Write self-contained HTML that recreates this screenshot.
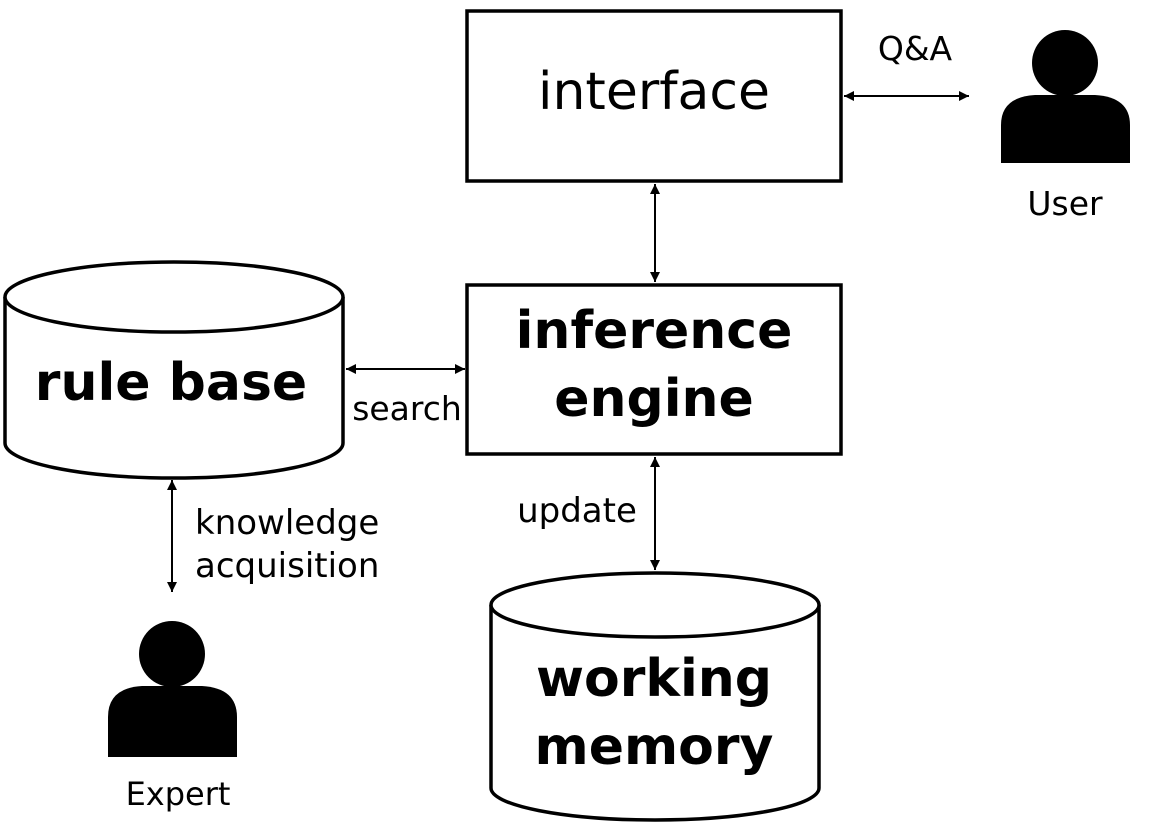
<!DOCTYPE html>
<html><head><meta charset="utf-8"><style>
html,body{margin:0;padding:0;background:#fff;}
svg{display:block;}
text{font-family:"DejaVu Sans","Liberation Sans",sans-serif;fill:#000;}
</style></head><body>
<svg width="1162" height="836" viewBox="0 0 1162 836" xmlns="http://www.w3.org/2000/svg">
<defs>
<marker id="a" viewBox="0 0 10 10" refX="10" refY="5" markerWidth="5" markerHeight="5" orient="auto-start-reverse"><path d="M0,0 L10,5 L0,10 z" fill="#000"/></marker>
</defs>
<g stroke="#000" stroke-width="3.5" fill="#fff">
<rect x="467" y="11" width="374" height="170"/>
<rect x="467" y="285" width="374" height="169"/>
<path d="M5,297 L5,443 A169,35 0 0 0 343,443 L343,297"/>
<ellipse cx="174" cy="297" rx="169" ry="35"/>
<path d="M491,605 L491,788 A164,32 0 0 0 819,788 L819,605"/>
<ellipse cx="655" cy="605" rx="164" ry="32"/>
</g>
<g stroke="#000" stroke-width="2" fill="none">
<line x1="655" y1="184" x2="655" y2="282" marker-start="url(#a)" marker-end="url(#a)"/>
<line x1="844" y1="96" x2="969" y2="96" marker-start="url(#a)" marker-end="url(#a)"/>
<line x1="346" y1="369" x2="465" y2="369" marker-start="url(#a)" marker-end="url(#a)"/>
<line x1="172" y1="480" x2="172" y2="592" marker-start="url(#a)" marker-end="url(#a)"/>
<line x1="655" y1="457" x2="655" y2="570" marker-start="url(#a)" marker-end="url(#a)"/>
</g>
<circle cx="1065" cy="63" r="33" fill="#000"/>
<path d="M1001,163 L1001,125 Q1001,97 1035,95 L1095,95 Q1130,97 1130,125 L1130,163 Z" fill="#000"/>
<circle cx="172" cy="654" r="33" fill="#000"/>
<path d="M108,757 L108,717 Q108,688 142,686 L202,686 Q237,688 237,717 L237,757 Z" fill="#000"/>
<text x="654" y="109" font-size="52" text-anchor="middle">interface</text>
<text x="654" y="348" font-size="52" font-weight="bold" text-anchor="middle">inference</text>
<text x="654" y="416" font-size="52" font-weight="bold" text-anchor="middle">engine</text>
<text x="171" y="400" font-size="52" font-weight="bold" text-anchor="middle">rule base</text>
<text x="654" y="696" font-size="52" font-weight="bold" text-anchor="middle">working</text>
<text x="654" y="764" font-size="52" font-weight="bold" text-anchor="middle">memory</text>
<text x="915" y="60" font-size="33" text-anchor="middle">Q&amp;A</text>
<text x="1065" y="215" font-size="33" text-anchor="middle">User</text>
<text x="178" y="805" font-size="32" text-anchor="middle">Expert</text>
<text x="407" y="420" font-size="33" text-anchor="middle">search</text>
<text x="195" y="534" font-size="34">knowledge</text>
<text x="195" y="577" font-size="34">acquisition</text>
<text x="577" y="522" font-size="34" text-anchor="middle">update</text>
</svg>
</body></html>
